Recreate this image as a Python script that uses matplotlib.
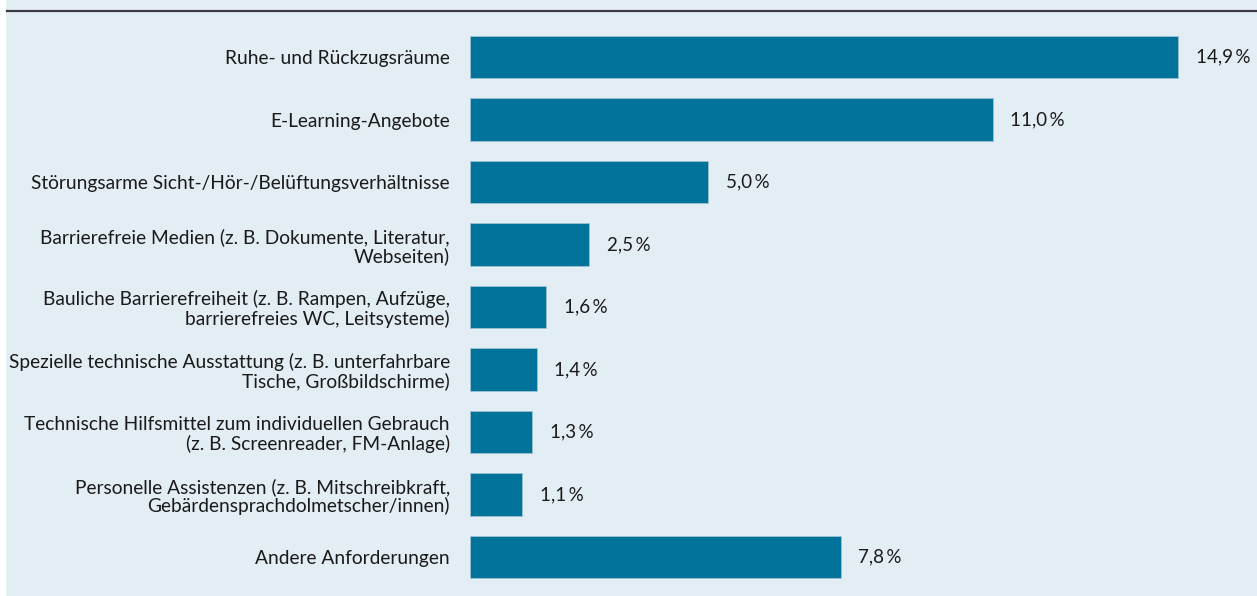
import matplotlib
matplotlib.use("Agg")
from matplotlib import pyplot
from matplotlib.lines import Line2D
from matplotlib.patches import Rectangle

categories = [
    "Ruhe- und Rückzugsräume",
    "E-Learning-Angebote",
    "Störungsarme Sicht-/Hör-/Belüftungsverhältnisse",
    "Barrierefreie Medien (z. B. Dokumente, Literatur,\nWebseiten)",
    "Bauliche Barrierefreiheit (z. B. Rampen, Aufzüge,\nbarrierefreies WC, Leitsysteme)",
    "Spezielle technische Ausstattung (z. B. unterfahrbare\nTische, Großbildschirme)",
    "Technische Hilfsmittel zum individuellen Gebrauch\n(z. B. Screenreader, FM-Anlage)",
    "Personelle Assistenzen (z. B. Mitschreibkraft,\nGebärdensprachdolmetscher/innen)",
    "Andere Anforderungen",
]
values = [14.9, 11.0, 5.0, 2.5, 1.6, 1.4, 1.3, 1.1, 7.8]

bg = "#e3edf4"
bar_color = "#00739b"
W, H = 1257, 596

pyplot.rcParams["font.family"] = ["Lato", "DejaVu Sans"]

fig = pyplot.figure(figsize=(W / 100, H / 100), dpi=100, facecolor="white")
# light blue panel, white strip on the left
fig.add_artist(Rectangle((6 / W, 0), 1 - 6 / W, 1, transform=fig.transFigure,
                         facecolor=bg, edgecolor="none", zorder=0))
fig.add_artist(Line2D([7 / W, 1], [1 - 10.5 / H, 1 - 10.5 / H], transform=fig.transFigure,
                      color="#3a3b44", linewidth=1.6, zorder=1))

left = 470 / W
ax = fig.add_axes([left, 0, 1 - left, 1 - 11 / H])
ax.set_facecolor("none")

ypos = list(range(len(values)))
ax.barh(ypos, values, height=0.68, color=bar_color, edgecolor="#9fc3d4", linewidth=0.6)

px_per_unit = 47.5
ax.set_xlim(0, (W - 470) / px_per_unit)
spacing = 62.5
ax.set_ylim((596 - 57) / spacing, (11 - 57) / spacing)

for y, v in zip(ypos, values):
    ax.text(v + 18 / px_per_unit, y, f"{v:.1f}\u2009%".replace(".", ","),
            va="center", ha="left", fontsize=13.5, color="#1a1a1a")

ax.set_yticks(ypos)
ax.set_yticklabels(categories, fontsize=13.8, color="#1a1a1a", linespacing=1.1)
ax.tick_params(axis="y", length=0, pad=14.5)
ax.set_xticks([])
for s in ax.spines.values():
    s.set_visible(False)

pyplot.savefig("out.png", dpi=100, facecolor=fig.get_facecolor())
